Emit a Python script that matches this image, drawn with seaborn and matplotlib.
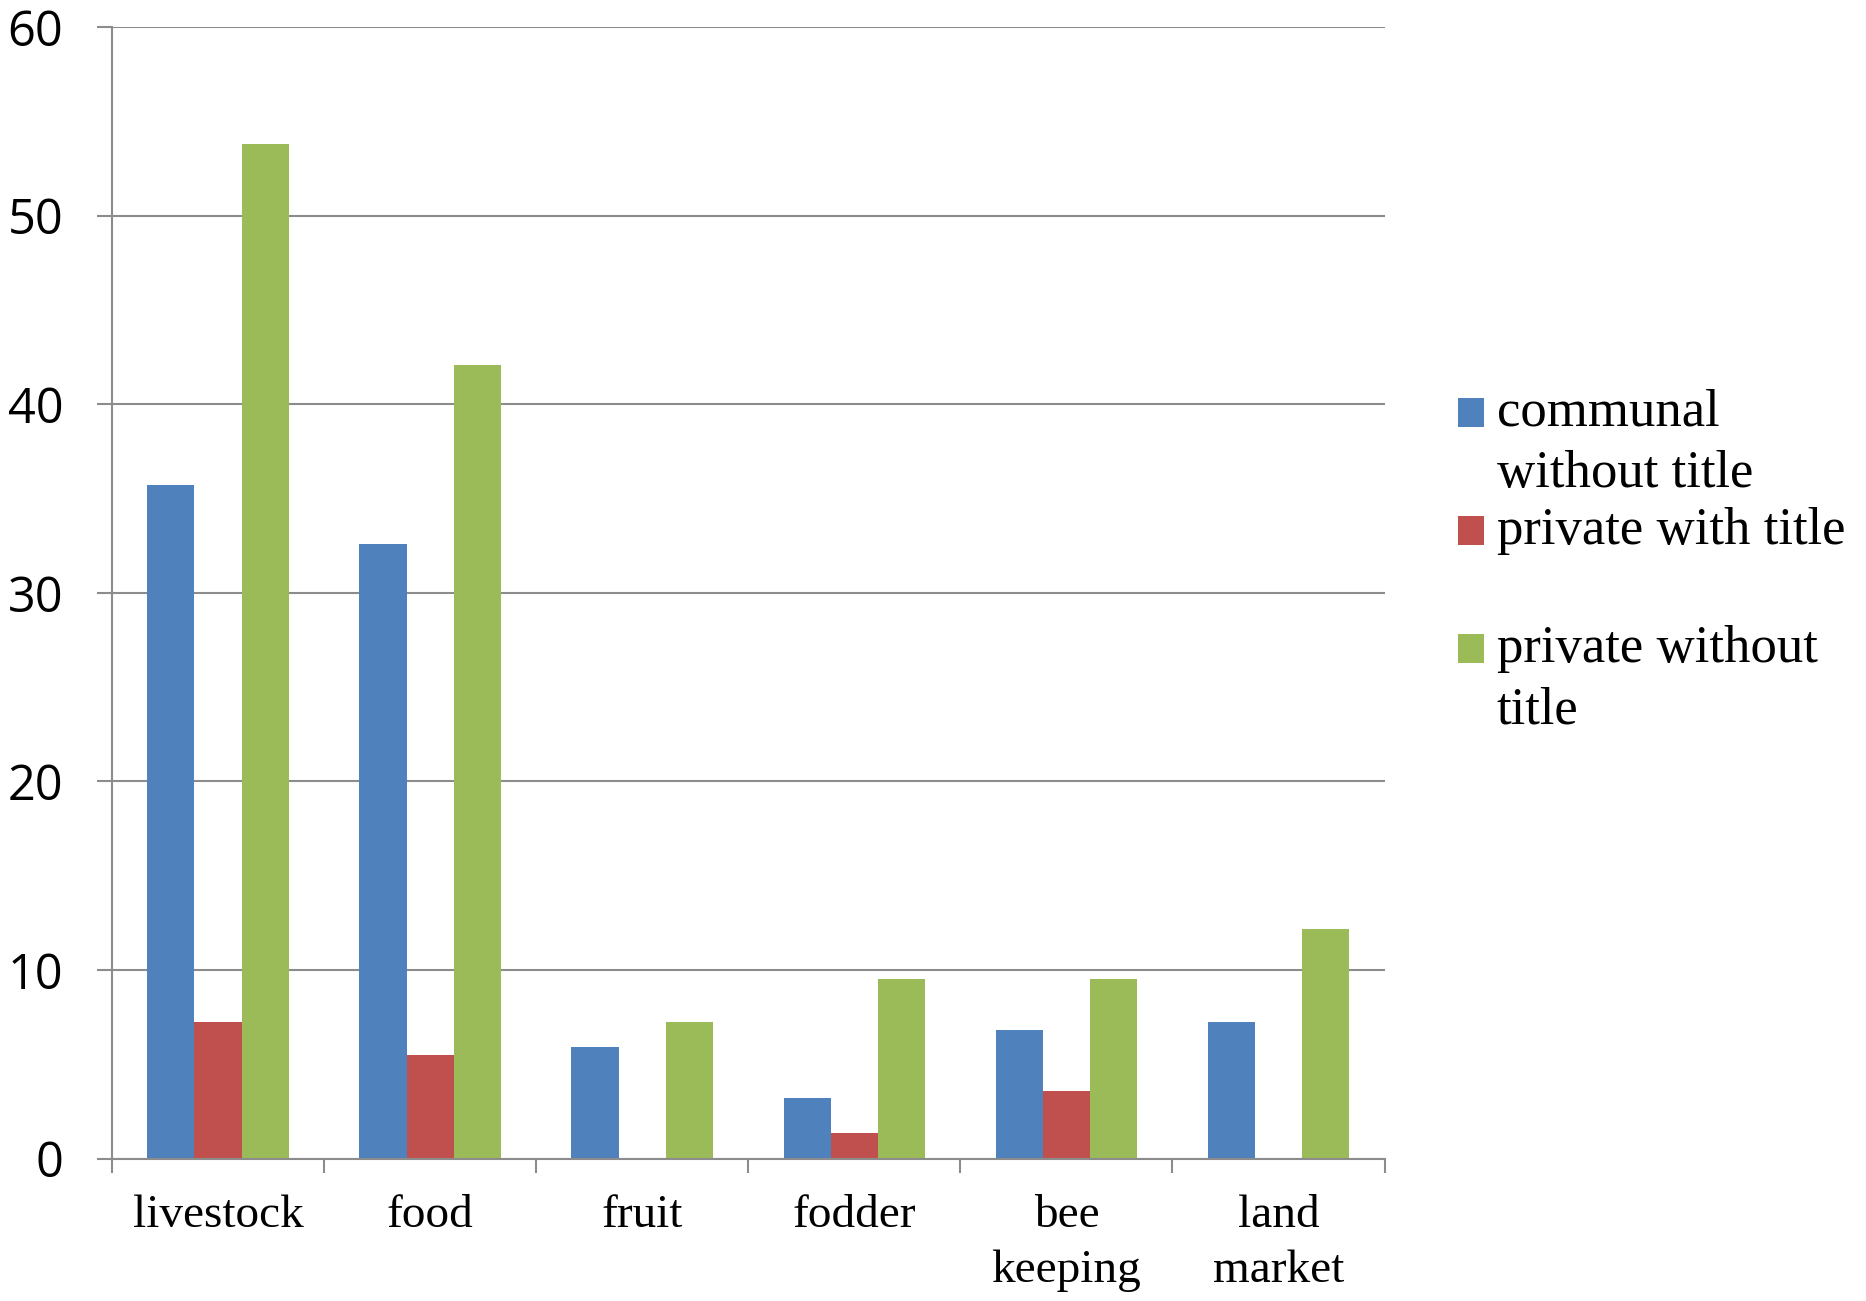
import matplotlib
matplotlib.use("Agg")
import matplotlib.pyplot as plt
import pandas as pd
import seaborn as sns

# Values
categories = ["livestock", "food", "fruit", "fodder", "bee\nkeeping", "land\nmarket"]
series = ["communal\nwithout title", "private with title", "private without\ntitle"]
communal_without_title = [35.7, 32.6, 5.9, 3.2, 6.8, 7.25]
private_with_title = [7.25, 5.5, 0.0, 1.35, 3.6, 0.0]
private_without_title = [53.8, 42.1, 7.25, 9.5, 9.5, 12.2]
colors = ["#4F81BD", "#C0504D", "#9BBB59"]
yticks = [0, 10, 20, 30, 40, 50, 60]

df = pd.DataFrame({
    "category": categories * 3,
    "series": [series[0]] * 6 + [series[1]] * 6 + [series[2]] * 6,
    "value": communal_without_title + private_with_title + private_without_title,
})

sns.set_style("white")
grid_color = "#8c8c8c"

fig = plt.figure(figsize=(18.66, 13.01), dpi=100)
ax = fig.add_axes([0.060, 0.1094, 0.682, 0.8698])

sns.barplot(data=df, x="category", y="value", hue="series", palette=colors,
            width=0.667, saturation=1, gap=0, linewidth=0, ax=ax)

ax.set_ylim(0, 60)
ax.set_xlim(-0.5, len(categories) - 0.5)
ax.set_yticks(yticks)
ax.set_yticklabels([str(v) for v in yticks], family="Open Sans", fontsize=35, color="black")
ax.yaxis.grid(True, color=grid_color, linewidth=1.5)
ax.set_axisbelow(True)
ax.tick_params(axis="y", length=11, width=1.5, color=grid_color, pad=24, left=True)

# category labels centred, tick marks at the group boundaries
ax.set_xticks(range(len(categories)))
ax.set_xticklabels(categories, family="Liberation Serif", fontsize=34,
                   linespacing=1.38, color="black")
ax.tick_params(axis="x", which="major", length=0, pad=26)
ax.set_xticks([i - 0.5 for i in range(len(categories) + 1)], minor=True)
ax.tick_params(axis="x", which="minor", length=10, width=1.5, color=grid_color, bottom=True)

for side in ["top", "right"]:
    ax.spines[side].set_visible(False)
for side in ["left", "bottom"]:
    ax.spines[side].set_color(grid_color)
    ax.spines[side].set_linewidth(1.5)

ax.set_xlabel("")
ax.set_ylabel("")

# Excel-style legend: every entry gets two lines, swatch next to the first line.
# A leading blank line centres the swatch on the first text line; the negative
# spacing takes that blank line back out.
handles, _ = ax.get_legend_handles_labels()
ax.get_legend().remove()
legend_labels = ["\n" + series[0], "\n" + series[1] + "\n", "\n" + series[2]]
leg = fig.legend(handles, legend_labels, loc="center left", bbox_to_anchor=(0.756, 0.592),
                 frameon=False, prop={"family": "Liberation Serif", "size": 38},
                 handlelength=0.48, handleheight=0.48, handletextpad=0.25,
                 labelspacing=-1.0)
for t in leg.get_texts():
    t.set_linespacing(1.365)
    t.set_color("black")

fig.savefig("out.png", dpi=100)
